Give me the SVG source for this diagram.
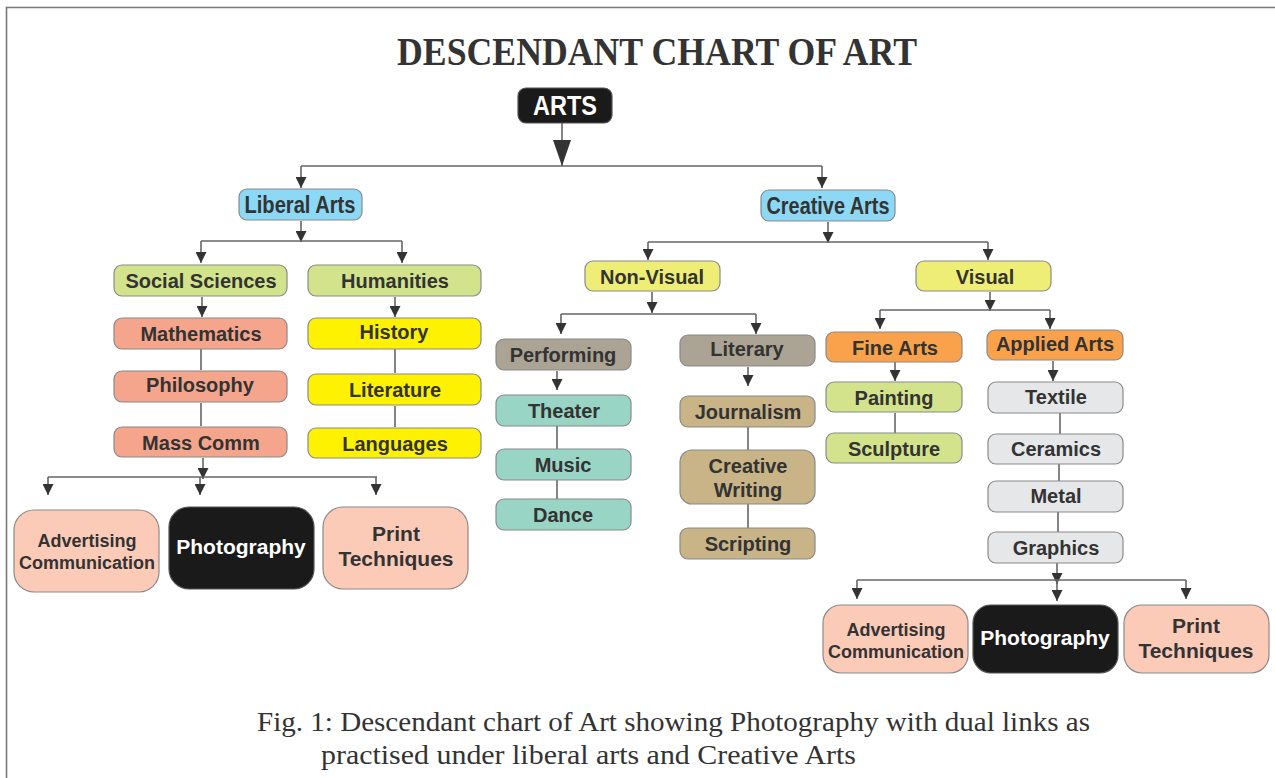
<svg xmlns="http://www.w3.org/2000/svg" width="1275" height="778" viewBox="0 0 1275 778">
<defs>
<marker id="ah" markerUnits="userSpaceOnUse" markerWidth="11" markerHeight="11" refX="11" refY="5.5" orient="auto"><path d="M0,0 L11,5.5 L0,11 z" fill="#333"/></marker>
<marker id="big" markerUnits="userSpaceOnUse" markerWidth="26" markerHeight="18" refX="26" refY="9" orient="auto"><path d="M0,0 L26,9 L0,18 z" fill="#333"/></marker>
<style>
.n{stroke:#8a8a8a;stroke-width:1.2}
.t{font-family:"Liberation Sans",Arial,sans-serif;font-weight:bold;font-size:20px;fill:#333;text-anchor:middle}
.s18{font-size:18px}.s21{font-size:21px}.s22{font-size:23px}.s26{font-size:27px}
.w{fill:#fff}
.c{fill:none;stroke:#666;stroke-width:1.6}
.a{marker-end:url(#ah)}
.blue{fill:#8dd8f5}.gy{fill:#d3e38c}.sal{fill:#f5a58b}.yel{fill:#fff200}.py{fill:#eeee77}
.tau{fill:#aba393}.teal{fill:#98d5c5}.tan{fill:#c8b487}.org{fill:#f9a24b}.lg{fill:#e6e7e9}.pch{fill:#fccbb8}.blk{fill:#1a1a1a;stroke:#555}
.serif{font-family:"Liberation Serif","Times New Roman",serif;fill:#333}
</style>
</defs>
<rect x="0" y="0" width="1275" height="778" fill="#fff"/>
<path d="M6.5,778 V7.5 H1275" fill="none" stroke="#777" stroke-width="1.6"/>
<text class="serif" x="657" y="65" font-weight="bold" style="font-size:39px" text-anchor="middle" textLength="520" lengthAdjust="spacingAndGlyphs">DESCENDANT CHART OF ART</text>

<g id="connectors">
<line class="c" x1="562" y1="123" x2="562" y2="166" marker-end="url(#big)"/>
<path class="c" d="M301,166 H822"/>
<line class="c a" x1="301" y1="166" x2="301" y2="188"/>
<line class="c a" x1="822" y1="166" x2="822" y2="188"/>
<line class="c a" x1="301" y1="221" x2="301" y2="242"/>
<path class="c" d="M201,241 H402"/>
<line class="c a" x1="201" y1="241" x2="201" y2="263"/>
<line class="c a" x1="402" y1="241" x2="402" y2="263"/>
<line class="c a" x1="202" y1="297" x2="202" y2="317"/>
<line class="c" x1="201" y1="349" x2="201" y2="370" stroke-width="2"/>
<line class="c" x1="201" y1="403" x2="201" y2="426" stroke-width="2"/>
<line class="c a" x1="395" y1="297" x2="395" y2="317"/>
<line class="c" x1="395" y1="349" x2="395" y2="373" stroke-width="2"/>
<line class="c" x1="395" y1="406" x2="395" y2="427" stroke-width="2"/>
<line class="c a" x1="203" y1="458" x2="203" y2="479"/>
<path class="c" d="M48,477 H377"/>
<line class="c a" x1="48" y1="477" x2="48" y2="495"/>
<line class="c a" x1="200" y1="477" x2="200" y2="495"/>
<line class="c a" x1="376" y1="477" x2="376" y2="495"/>

<line class="c a" x1="828" y1="222" x2="828" y2="243"/>
<path class="c" d="M648,242 H988"/>
<line class="c a" x1="648" y1="242" x2="648" y2="260"/>
<line class="c a" x1="988" y1="242" x2="988" y2="260"/>
<line class="c a" x1="652" y1="292" x2="652" y2="313"/>
<path class="c" d="M561,314 H756"/>
<line class="c a" x1="561" y1="314" x2="561" y2="334"/>
<line class="c a" x1="756" y1="314" x2="756" y2="334"/>
<line class="c a" x1="557" y1="371" x2="557" y2="390"/>
<line class="c" x1="557" y1="426" x2="557" y2="449" stroke-width="2"/>
<line class="c" x1="557" y1="480" x2="557" y2="499" stroke-width="2"/>
<line class="c a" x1="748" y1="367" x2="748" y2="386"/>
<line class="c" x1="748" y1="427" x2="748" y2="450" stroke-width="2"/>
<line class="c" x1="748" y1="504" x2="748" y2="528" stroke-width="2"/>

<line class="c a" x1="990" y1="292" x2="990" y2="311"/>
<path class="c" d="M880,310 H1050"/>
<line class="c a" x1="880" y1="310" x2="880" y2="329"/>
<line class="c a" x1="1050" y1="310" x2="1050" y2="329"/>
<line class="c a" x1="895" y1="362" x2="895" y2="381"/>
<line class="c" x1="895" y1="413" x2="895" y2="433" stroke-width="2"/>
<line class="c a" x1="1053" y1="361" x2="1053" y2="381"/>
<line class="c" x1="1060" y1="413" x2="1060" y2="434" stroke-width="2"/>
<line class="c" x1="1059" y1="464" x2="1059" y2="481" stroke-width="2"/>
<line class="c" x1="1058" y1="512" x2="1058" y2="532" stroke-width="2"/>
<line class="c a" x1="1057" y1="563" x2="1057" y2="584"/>
<path class="c" d="M857,580 H1186"/>
<line class="c a" x1="857" y1="580" x2="857" y2="599"/>
<line class="c a" x1="1057" y1="580" x2="1057" y2="601"/>
<line class="c a" x1="1186" y1="580" x2="1186" y2="599"/>
</g>

<g id="arts"><rect class="n blk" x="518" y="88" width="94" height="35" rx="8"/><text class="t w s26" x="565" y="115" textLength="64" lengthAdjust="spacingAndGlyphs">ARTS</text></g>
<g id="liberal-arts"><rect class="n blue" x="239" y="189" width="123" height="31" rx="8"/><text class="t s22" x="300" y="213" textLength="111" lengthAdjust="spacingAndGlyphs">Liberal Arts</text></g>
<g id="creative-arts"><rect class="n blue" x="761" y="190" width="134" height="31" rx="8"/><text class="t s22" x="828" y="214" textLength="123" lengthAdjust="spacingAndGlyphs">Creative Arts</text></g>

<g id="social-sciences"><rect class="n gy" x="114" y="265" width="173" height="31" rx="8"/><text class="t" x="201" y="288">Social Sciences</text></g>
<g id="humanities"><rect class="n gy" x="308" y="265" width="173" height="31" rx="8"/><text class="t" x="395" y="288">Humanities</text></g>
<g id="mathematics"><rect class="n sal" x="114" y="318" width="173" height="31" rx="8"/><text class="t" x="201" y="341">Mathematics</text></g>
<g id="philosophy"><rect class="n sal" x="114" y="371" width="173" height="31" rx="8"/><text class="t" x="200" y="392">Philosophy</text></g>
<g id="mass-comm"><rect class="n sal" x="114" y="427" width="173" height="30" rx="8"/><text class="t" x="201" y="450">Mass Comm</text></g>
<g id="history"><rect class="n yel" x="308" y="318" width="173" height="31" rx="8"/><text class="t" x="394" y="339">History</text></g>
<g id="literature"><rect class="n yel" x="308" y="374" width="173" height="31" rx="8"/><text class="t" x="395" y="397">Literature</text></g>
<g id="languages"><rect class="n yel" x="308" y="428" width="173" height="30" rx="8"/><text class="t" x="395" y="451">Languages</text></g>

<g id="advertising-1"><rect class="n pch" x="14" y="510" width="145" height="82" rx="20"/><text class="t s18" x="87" y="547">Advertising</text><text class="t s18" x="87" y="569">Communication</text></g>
<g id="photography-1"><rect class="n blk" x="169" y="507" width="145" height="82" rx="20"/><text class="t w s21" x="241" y="554">Photography</text></g>
<g id="print-1"><rect class="n pch" x="323" y="507" width="145" height="82" rx="20"/><text class="t s21" x="396" y="541">Print</text><text class="t s21" x="396" y="566">Techniques</text></g>

<g id="non-visual"><rect class="n py" x="585" y="261" width="135" height="30" rx="8"/><text class="t" x="652" y="284">Non-Visual</text></g>
<g id="visual"><rect class="n py" x="916" y="261" width="135" height="30" rx="8"/><text class="t" x="985" y="284">Visual</text></g>
<g id="performing"><rect class="n tau" x="496" y="339" width="135" height="31" rx="8"/><text class="t" x="563" y="362">Performing</text></g>
<g id="literary"><rect class="n tau" x="680" y="335" width="135" height="31" rx="8"/><text class="t" x="747" y="356">Literary</text></g>
<g id="theater"><rect class="n teal" x="496" y="395" width="135" height="31" rx="8"/><text class="t" x="564" y="418">Theater</text></g>
<g id="music"><rect class="n teal" x="496" y="449" width="135" height="31" rx="8"/><text class="t" x="563" y="472">Music</text></g>
<g id="dance"><rect class="n teal" x="496" y="499" width="135" height="31" rx="8"/><text class="t" x="563" y="522">Dance</text></g>
<g id="journalism"><rect class="n tan" x="680" y="396" width="135" height="31" rx="8"/><text class="t" x="748" y="419">Journalism</text></g>
<g id="creative-writing"><rect class="n tan" x="680" y="450" width="135" height="54" rx="12"/><text class="t" x="748" y="473">Creative</text><text class="t" x="748" y="497">Writing</text></g>
<g id="scripting"><rect class="n tan" x="680" y="528" width="135" height="31" rx="8"/><text class="t" x="748" y="551">Scripting</text></g>

<g id="fine-arts"><rect class="n org" x="826" y="332" width="136" height="30" rx="8"/><text class="t" x="895" y="355">Fine Arts</text></g>
<g id="applied-arts"><rect class="n org" x="987" y="330" width="136" height="30" rx="8"/><text class="t" x="1055" y="351">Applied Arts</text></g>
<g id="painting"><rect class="n gy" x="826" y="382" width="136" height="30" rx="8"/><text class="t" x="894" y="405">Painting</text></g>
<g id="sculpture"><rect class="n gy" x="826" y="433" width="136" height="30" rx="8"/><text class="t" x="894" y="456">Sculpture</text></g>
<g id="textile"><rect class="n lg" x="988" y="382" width="135" height="31" rx="8"/><text class="t" x="1056" y="404">Textile</text></g>
<g id="ceramics"><rect class="n lg" x="988" y="434" width="135" height="30" rx="8"/><text class="t" x="1056" y="456">Ceramics</text></g>
<g id="metal"><rect class="n lg" x="988" y="481" width="135" height="31" rx="8"/><text class="t" x="1056" y="503">Metal</text></g>
<g id="graphics"><rect class="n lg" x="988" y="532" width="135" height="31" rx="8"/><text class="t" x="1056" y="555">Graphics</text></g>

<g id="advertising-2"><rect class="n pch" x="823" y="605" width="145" height="68" rx="18"/><text class="t s18" x="896" y="636">Advertising</text><text class="t s18" x="896" y="658">Communication</text></g>
<g id="photography-2"><rect class="n blk" x="973" y="605" width="145" height="68" rx="18"/><text class="t w s21" x="1045" y="645">Photography</text></g>
<g id="print-2"><rect class="n pch" x="1124" y="605" width="145" height="68" rx="18"/><text class="t s21" x="1196" y="633">Print</text><text class="t s21" x="1196" y="658">Techniques</text></g>

<g class="serif" style="font-size:28px">
<text x="257" y="731" textLength="833" lengthAdjust="spacingAndGlyphs">Fig. 1: Descendant chart of Art showing Photography with dual links as</text>
<text x="321" y="764" textLength="535" lengthAdjust="spacingAndGlyphs">practised under liberal arts and Creative Arts</text>
</g>
</svg>
